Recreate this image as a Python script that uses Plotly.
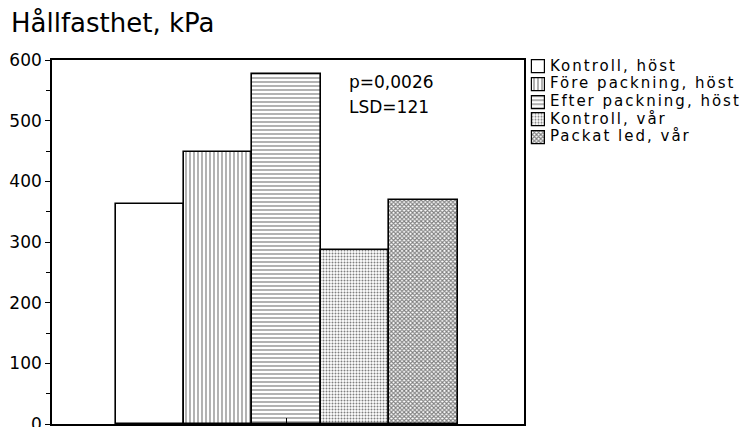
import plotly.graph_objects as go

# Treatments and measured strength (kPa)
treatments = ["Kontroll, höst", "Före packning, höst", "Efter packning, höst",
              "Kontroll, vår", "Packat led, vår"]
strength = [362, 448, 577, 287, 369]
y_ticks = [0, 100, 200, 300, 400, 500, 600]

# Fill style per treatment
patterns = ["", "|", "-", ".", "x"]
pattern_sizes = [6, 4, 4, 3, 3]
pattern_solidity = [0.3, 0.3, 0.3, 0.35, 0.6]

FONT = "DejaVu Sans, Verdana, sans-serif"
W, H = 741, 427
ML, MR, MT, MB = 52, 0, 0, 3
PW, PH = W - ML - MR, H - MT - MB
PLOT_TOP, PLOT_RIGHT = 60, 524          # frame of the chart, page pixels
KEY_AXIS_X0, KEY_PAD = 528, 4           # key axis starts a few px left of the swatches
KEY_SWATCH, KEY_GAP = 13, 5
KEY_ROW0, KEY_ROW_STEP = 67, 17.6


def px_x(p):
    """Page x pixel -> paper coordinate."""
    return (p - ML) / PW


def px_y(p):
    """Page y pixel -> paper coordinate."""
    return (H - MB - p) / PH


def fill(lw):
    return dict(
        color="white",
        line=dict(color="black", width=lw),
        pattern=dict(shape=patterns, fgcolor="black", bgcolor="white",
                     size=pattern_sizes, solidity=pattern_solidity,
                     fillmode="overlay"),
    )


fig = go.Figure()

# Main bars
fig.add_trace(go.Bar(x=list(range(len(treatments))), y=strength, width=1.0,
                     marker=fill(1.6), hovertext=treatments,
                     xaxis="x", yaxis="y", showlegend=False))

# Key: swatch per treatment on its own small axis (x2 in pixels), label to its right
n_rows = len(treatments)
fig.add_trace(go.Bar(x=[KEY_SWATCH] * n_rows, base=[KEY_PAD] * n_rows, y=treatments,
                     orientation="h", width=13 / KEY_ROW_STEP, marker=fill(1.2),
                     cliponaxis=False, xaxis="x2", yaxis="y2",
                     showlegend=False, hoverinfo="skip"))
fig.add_trace(go.Scatter(
    x=[KEY_PAD + KEY_SWATCH + KEY_GAP] * n_rows, y=treatments, mode="text",
    text=[f'<span style="letter-spacing:2px">{t}</span>' for t in treatments],
    textposition="middle right", cliponaxis=False,
    textfont=dict(family=FONT, size=15, color="black"),
    xaxis="x2", yaxis="y2", showlegend=False, hoverinfo="skip"))

# Statistics text
fig.add_annotation(x=px_x(347), y=px_y(82), xref="paper", yref="paper",
                   xanchor="left", yanchor="middle", showarrow=False,
                   text="p=0,0026", font=dict(family=FONT, size=17, color="black"))
fig.add_annotation(x=px_x(347), y=px_y(107), xref="paper", yref="paper",
                   xanchor="left", yanchor="middle", showarrow=False,
                   text="LSD=121", font=dict(family=FONT, size=17, color="black"))

# Heading
fig.add_annotation(x=px_x(9), y=px_y(23), xref="paper", yref="paper",
                   xanchor="left", yanchor="middle", showarrow=False,
                   text="Hållfasthet, kPa", font=dict(family=FONT, size=26, color="black"))

key_top = KEY_ROW0 - KEY_ROW_STEP / 2
key_bottom = KEY_ROW0 + KEY_ROW_STEP * (n_rows - 0.5)

fig.update_layout(
    width=W, height=H,
    margin=dict(l=ML, r=MR, t=MT, b=MB, autoexpand=False),
    paper_bgcolor="white", plot_bgcolor="white",
    font=dict(family=FONT, color="black", size=17),
    bargap=0, barmode="overlay", showlegend=False,
    xaxis=dict(domain=[0, px_x(PLOT_RIGHT)], range=[-1.43, 5.47], tickvals=[2],
               showticklabels=False, ticks="inside", ticklen=6, tickcolor="black",
               showgrid=False, zeroline=False, showline=True, linecolor="black",
               linewidth=1.6, mirror=True),
    yaxis=dict(domain=[0, px_y(PLOT_TOP)], range=[0, 600], tickvals=y_ticks,
               ticks="outside", ticklen=5, tickwidth=1.2, tickcolor="black",
               showgrid=False, zeroline=False, ticklabeloverflow="allow",
               showline=True, linecolor="black", linewidth=1.6, mirror=True,
               minor=dict(dtick=50, ticks="outside", ticklen=4, tickcolor="black"),
               tickfont=dict(family=FONT, size=17, color="black")),
    xaxis2=dict(domain=[px_x(KEY_AXIS_X0), 1], range=[0, W - KEY_AXIS_X0], anchor="y2",
                visible=False, fixedrange=True),
    yaxis2=dict(domain=[px_y(key_bottom), px_y(key_top)], anchor="x2",
                type="category", categoryorder="array", categoryarray=treatments,
                autorange="reversed", visible=False, fixedrange=True),
)

fig.write_html("out.html")
